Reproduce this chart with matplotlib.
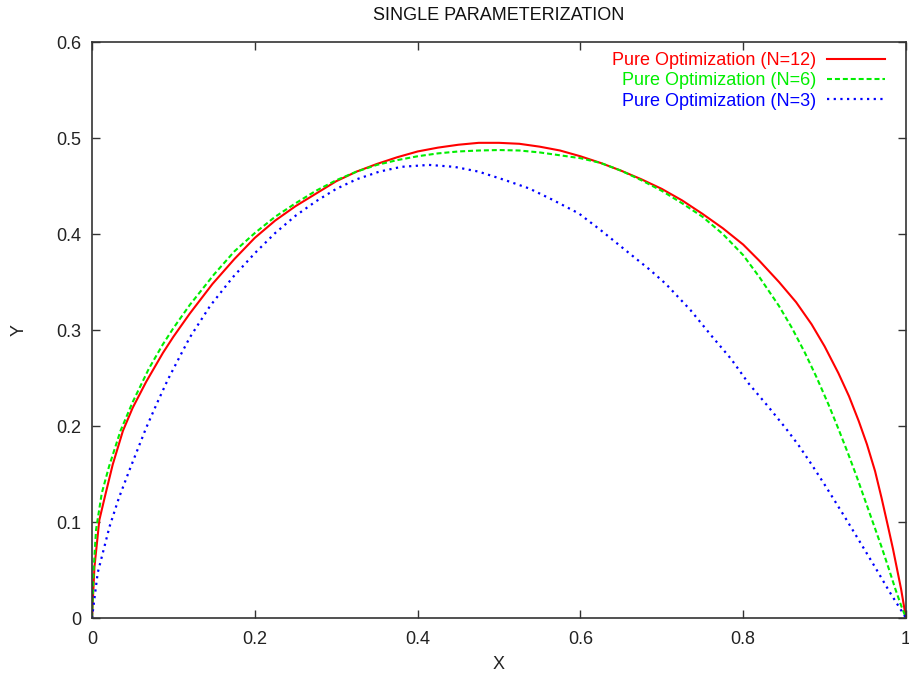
import numpy as np
import matplotlib.pyplot as plt
from matplotlib.ticker import FormatStrFormatter, MultipleLocator

plt.rcParams['font.family'] = ['Liberation Sans', 'DejaVu Sans']

# curves
x_n12 = [0, 0.003, 0.009, 0.016, 0.0255, 0.038, 0.05, 0.0665, 0.087, 0.1, 0.12, 0.148,
         0.175, 0.2, 0.225, 0.25, 0.275, 0.3, 0.325, 0.35, 0.375, 0.4, 0.425, 0.45,
         0.475, 0.5, 0.525, 0.55, 0.575, 0.6, 0.625, 0.65, 0.675, 0.7, 0.725, 0.75,
         0.775, 0.8, 0.82, 0.844, 0.865, 0.884, 0.9, 0.917, 0.93, 0.942, 0.952, 0.962,
         0.97, 0.978, 0.984, 0.989, 0.994, 1.0]
y_n12 = [0, 0.053, 0.102, 0.127, 0.16, 0.195, 0.219, 0.246, 0.276, 0.293, 0.317, 0.348,
         0.374, 0.396, 0.414, 0.429, 0.442, 0.455, 0.465, 0.473, 0.48, 0.486, 0.49, 0.493,
         0.495, 0.495, 0.494, 0.491, 0.487, 0.481, 0.474, 0.466, 0.457, 0.447, 0.435, 0.421,
         0.406, 0.389, 0.372, 0.35, 0.329, 0.306, 0.283, 0.255, 0.231, 0.205, 0.181, 0.153,
         0.125, 0.095, 0.072, 0.051, 0.03, 0.0]

x_n6 = [0, 0.002, 0.005, 0.012, 0.021, 0.035, 0.05, 0.07, 0.087, 0.1, 0.12, 0.15,
        0.175, 0.2, 0.225, 0.25, 0.275, 0.3, 0.325, 0.35, 0.375, 0.4, 0.425, 0.45,
        0.475, 0.5, 0.525, 0.55, 0.575, 0.6, 0.625, 0.65, 0.675, 0.7, 0.725, 0.75,
        0.775, 0.8, 0.82, 0.844, 0.86, 0.876, 0.89, 0.905, 0.917, 0.929, 0.94, 0.95,
        0.96, 0.97, 0.979, 0.987, 0.994, 1.0]
y_n6 = [0, 0.05, 0.092, 0.13, 0.158, 0.195, 0.225, 0.26, 0.285, 0.302, 0.326, 0.358,
        0.382, 0.401, 0.418, 0.432, 0.445, 0.456, 0.465, 0.472, 0.477, 0.481, 0.484, 0.486,
        0.487, 0.4875, 0.487, 0.485, 0.482, 0.479, 0.474, 0.466, 0.456, 0.445, 0.432, 0.418,
        0.4, 0.378, 0.355, 0.325, 0.302, 0.276, 0.251, 0.222, 0.197, 0.171, 0.146, 0.122,
        0.098, 0.074, 0.051, 0.03, 0.013, 0.0]

x_n3 = [0, 0.007, 0.0215, 0.033, 0.046, 0.0665, 0.08, 0.093, 0.107, 0.12, 0.145, 0.173,
        0.2, 0.225, 0.25, 0.275, 0.3, 0.325, 0.353, 0.38, 0.414, 0.445, 0.475, 0.508,
        0.537, 0.565, 0.598, 0.625, 0.66, 0.685, 0.705, 0.735, 0.762, 0.785, 0.807, 0.83,
        0.852, 0.868, 0.884, 0.9, 0.925, 0.945, 0.962, 0.98, 1.0]
y_n3 = [0, 0.047, 0.095, 0.125, 0.154, 0.198, 0.224, 0.248, 0.271, 0.292, 0.325, 0.355,
        0.38, 0.401, 0.419, 0.434, 0.447, 0.457, 0.465, 0.47, 0.472, 0.47, 0.465, 0.456,
        0.4475, 0.436, 0.4215, 0.404, 0.38, 0.363, 0.348, 0.321, 0.293, 0.27, 0.244, 0.221,
        0.198, 0.18, 0.16, 0.139, 0.105, 0.077, 0.053, 0.027, 0.0]

labels = ['Pure Optimization (N=12)', 'Pure Optimization (N=6)', 'Pure Optimization (N=3)']

fig = plt.figure(figsize=(9.09, 6.79), dpi=100)
ax = fig.add_axes([0.1012, 0.0898, 0.8955, 0.8483])

ax.plot(x_n12, y_n12, color='#ff0000', lw=1.5, label=labels[0])
ax.plot(x_n6, y_n6, color='#00ee00', lw=1.5, dashes=(2.4, 1.4), label=labels[1])
ax.plot(x_n3, y_n3, color='#0000ff', lw=1.6, dashes=(1, 2), dash_capstyle='butt',
        label=labels[2])

ax.set_xlim(0, 1)
ax.set_ylim(0, 0.6)
ax.xaxis.set_major_locator(MultipleLocator(0.2))
ax.yaxis.set_major_locator(MultipleLocator(0.1))
ax.xaxis.set_major_formatter(FormatStrFormatter('%g'))
ax.yaxis.set_major_formatter(FormatStrFormatter('%g'))
ax.tick_params(direction='in', length=6, width=1, colors='#333333', labelsize=13,
               top=True, right=True, labelcolor='#222222')
ax.tick_params(axis='x', pad=9)
ax.tick_params(axis='y', pad=8)
for s in ax.spines.values():
    s.set_color('#333333')
    s.set_linewidth(1.2)

fig.text(0.549, 1 - 15 / 679, 'SINGLE PARAMETERIZATION', fontsize=13,
         ha='center', va='center', color='#111111')
ax.set_xlabel('X', fontsize=13, color='#222222')
ax.set_ylabel('Y', fontsize=13, color='#222222')
ax.xaxis.set_label_coords(0.5, -0.066)
ax.yaxis.set_label_coords(-0.079, 0.5)

leg = ax.legend(loc='upper right', bbox_to_anchor=(0.974, 0.982), frameon=False,
                markerfirst=False, labelcolor='linecolor', fontsize=13,
                handlelength=3.2, handletextpad=0.6, labelspacing=0.17,
                borderaxespad=0, borderpad=0)

fig.savefig('out.png', dpi=100)
